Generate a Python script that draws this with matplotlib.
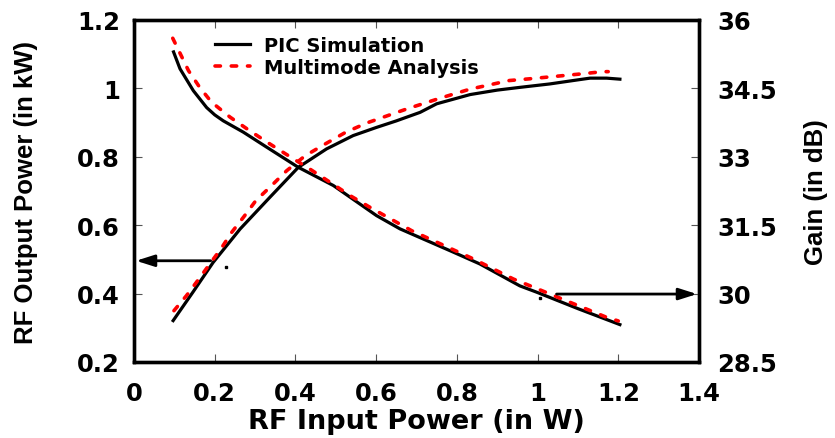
import matplotlib
matplotlib.use("Agg")
import matplotlib.pyplot as plt

plt.rcParams['font.family'] = ['DejaVu Sans']
plt.rcParams['font.weight'] = 'bold'

# RF output power (kW) vs RF input power (W)
pic_power_x = [0.097, 0.147, 0.196, 0.263, 0.337, 0.407, 0.477, 0.543, 0.601, 0.65,
               0.709, 0.75, 0.833, 0.90, 0.956, 1.03, 1.10, 1.13, 1.171, 1.204]
pic_power_y = [0.321, 0.406, 0.491, 0.589, 0.682, 0.769, 0.823, 0.862, 0.886, 0.905,
               0.93, 0.955, 0.982, 0.995, 1.003, 1.013, 1.025, 1.03, 1.03, 1.027]
mm_power_x = [0.099, 0.13, 0.159, 0.188, 0.216, 0.242, 0.273, 0.302, 0.341, 0.378, 0.424,
              0.473, 0.525, 0.577, 0.676, 0.76, 0.833, 0.93, 0.98, 1.105, 1.162, 1.175]
mm_power_y = [0.35, 0.394, 0.44, 0.487, 0.532, 0.579, 0.626, 0.672, 0.716, 0.759, 0.803,
              0.837, 0.872, 0.899, 0.94, 0.972, 0.998, 1.023, 1.028, 1.042, 1.049, 1.049]

# Gain (dB) vs RF input power (W)
pic_gain_x = [0.098, 0.114, 0.147, 0.18, 0.20, 0.221, 0.271, 0.329, 0.407, 0.494, 0.601,
              0.659, 0.791, 0.857, 0.956, 0.998, 1.10, 1.204]
pic_gain_y = [35.30, 34.93, 34.45, 34.08, 33.92, 33.79, 33.54, 33.21, 32.77, 32.37, 31.71,
              31.42, 30.91, 30.65, 30.17, 30.03, 29.67, 29.32]
mm_gain_x = [0.096, 0.135, 0.163, 0.192, 0.238, 0.287, 0.337, 0.387, 0.436, 0.486, 0.539,
             0.589, 0.688, 0.841, 0.94, 0.99, 1.072, 1.171, 1.2]
mm_gain_y = [35.60, 34.89, 34.52, 34.20, 33.87, 33.57, 33.28, 33.0, 32.73, 32.44, 32.13,
             31.87, 31.38, 30.76, 30.32, 30.14, 29.84, 29.48, 29.40]

x_ticks = [0, 0.2, 0.4, 0.6, 0.8, 1.0, 1.2, 1.4]
x_labels = ["0", "0.2", "0.4", "0.6", "0.8", "1", "1.2", "1.4"]
power_ticks = [0.2, 0.4, 0.6, 0.8, 1.0, 1.2]
power_labels = ["0.2", "0.4", "0.6", "0.8", "1", "1.2"]
gain_ticks = [28.5, 30, 31.5, 33, 34.5, 36]
gain_labels = ["28.5", "30", "31.5", "33", "34.5", "36"]

W, H = 835, 439
fig = plt.figure(figsize=(W / 100, H / 100), dpi=100)
ax = fig.add_axes([134 / W, 1 - 363 / H, 565 / W, 342 / H])
ax2 = ax.twinx()

lw_solid = 2.3
lw_dash = 2.6
dash = (1.5, 3.0)

l1, = ax.plot(pic_power_x, pic_power_y, color='black', lw=lw_solid, label='PIC Simulation')
l2, = ax.plot(mm_power_x, mm_power_y, color='#ff0000', lw=lw_dash, dashes=dash,
              dash_capstyle='round', label='Multimode Analysis')
ax2.plot(pic_gain_x, pic_gain_y, color='black', lw=lw_solid)
ax2.plot(mm_gain_x, mm_gain_y, color='#ff0000', lw=lw_dash, dashes=dash, dash_capstyle='round')

ax.set_xlim(0, 1.4)
ax.set_ylim(0.2, 1.2)
ax2.set_ylim(28.5, 36)

ax.set_xticks(x_ticks, x_labels)
ax.set_yticks(power_ticks, power_labels)
ax2.set_yticks(gain_ticks, gain_labels)

tick_font = 17.5
tick_style = dict(direction='in', length=6, width=0.8, color='#555555', labelsize=tick_font)
ax.tick_params(axis='x', top=True, pad=14, **tick_style)
ax.tick_params(axis='y', pad=10, **tick_style)
ax2.tick_params(axis='y', pad=13, **tick_style)
for a in (ax, ax2):
    for lab in a.get_xticklabels() + a.get_yticklabels():
        lab.set_fontweight('bold')
    for sp in a.spines.values():
        sp.set_linewidth(2.4)

ax.set_xlabel('RF Input Power (in W)', fontsize=19.5, fontweight='bold', labelpad=2)
label_font = ['Liberation Sans', 'DejaVu Sans']
fig.text(26 / W, 1 - 193 / H, 'RF Output Power (in kW)', rotation=90, ha='center',
         va='center', fontsize=18.5, fontweight='bold', family=label_font)
fig.text(816 / W, 1 - 192 / H, 'Gain (in dB)', rotation=90, ha='center',
         va='center', fontsize=18.5, fontweight='bold', family=label_font)

# Arrows pointing each family of curves to its axis
ax.annotate('', xy=(0.005, 0.496), xytext=(0.19, 0.496),
            arrowprops=dict(arrowstyle='-|>,head_length=1.1,head_width=0.35',
                            color='black', lw=2.0, shrinkA=0, shrinkB=0))
ax2.annotate('', xy=(1.395, 29.99), xytext=(1.047, 29.99),
             arrowprops=dict(arrowstyle='-|>,head_length=1.1,head_width=0.35',
                             color='black', lw=2.0, shrinkA=0, shrinkB=0))
ax.plot([0.227], [0.478], 's', color='black', ms=1.6)
ax2.plot([1.005], [29.90], 's', color='black', ms=1.6)

leg = ax.legend(handles=[l1, l2], loc='upper left', bbox_to_anchor=(0.129, 0.976),
                frameon=False, fontsize=14, handlelength=1.8, handletextpad=0.75,
                labelspacing=0.13, borderaxespad=0.0)
for t in leg.get_texts():
    t.set_fontweight('bold')

fig.savefig('out.png', dpi=100)
